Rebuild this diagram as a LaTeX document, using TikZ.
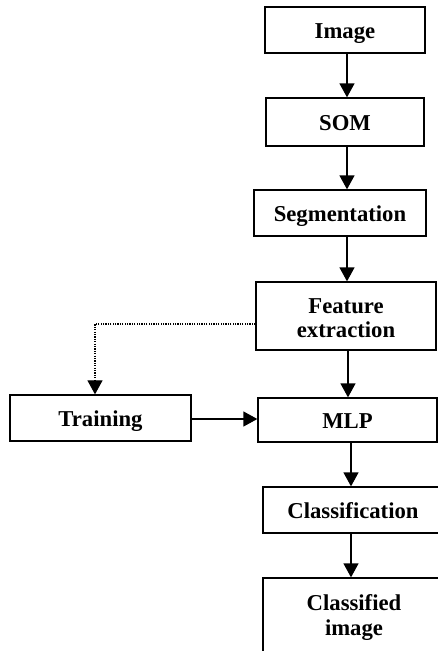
\documentclass[tikz,border=0pt]{standalone}
\usepackage{fontspec}
\setmainfont{Liberation Serif}
\usetikzlibrary{arrows.meta}
\begin{document}
\begin{tikzpicture}[x=1pt,y=-1pt,
  box/.style={draw, line width=1.3pt, inner sep=0pt, align=center,
    text height=18pt, text depth=1.5pt,
    font=\fontsize{22.7}{24.4}\selectfont\bfseries},
  twoline/.style={text height=46pt, text depth=2.6pt},
  arr/.style={line width=1.3pt, -{Triangle[width=15pt,length=14pt]}},
  dotarr/.style={line width=1.2pt, dash pattern=on 1.2pt off 1.2pt, -{Triangle[width=15pt,length=14pt]}}]
\useasboundingbox (0,0) rectangle (438,651);
\clip (0,0) rectangle (438,651);
\node[box, minimum width=160pt, minimum height=46pt] (img) at (345,30) {Image};
\node[box, minimum width=158pt, minimum height=48pt] (som) at (345,122) {SOM};
\node[box, minimum width=172pt, minimum height=46pt] (seg) at (340,213) {Segmentation};
\node[box, twoline, minimum width=180pt, minimum height=68pt] (feat) at (346,316) {Feature\\extraction};
\node[box, minimum width=181pt, minimum height=46pt] (train) at (100.5,418) {Training};
\node[box, minimum width=179pt, minimum height=44pt] (mlp) at (347.5,420) {MLP};
\node[box, minimum width=180pt, minimum height=46pt] (cls) at (353,510) {Classification};
\node[box, twoline, text depth=14pt, minimum width=182pt, minimum height=82pt] (cimg) at (354,619) {Classified\\image};
\draw[arr] (img.south -| 347,0) -- (som.north -| 347,0);
\draw[arr] (som.south -| 347,0) -- (seg.north -| 347,0);
\draw[arr] (seg.south -| 347,0) -- (feat.north -| 347,0);
\draw[arr] (feat.south -| 348,0) -- (mlp.north -| 348,0);
\draw[arr] (mlp.south -| 351,0) -- (cls.north -| 351,0);
\draw[arr] (cls.south -| 351,0) -- (cimg.north -| 351,0);
\draw[arr] (train.east |- 0,419) -- (mlp.west |- 0,419);
\draw[dotarr] (feat.west |- 0,324) -| (train.north -| 95,0);
\end{tikzpicture}
\end{document}
